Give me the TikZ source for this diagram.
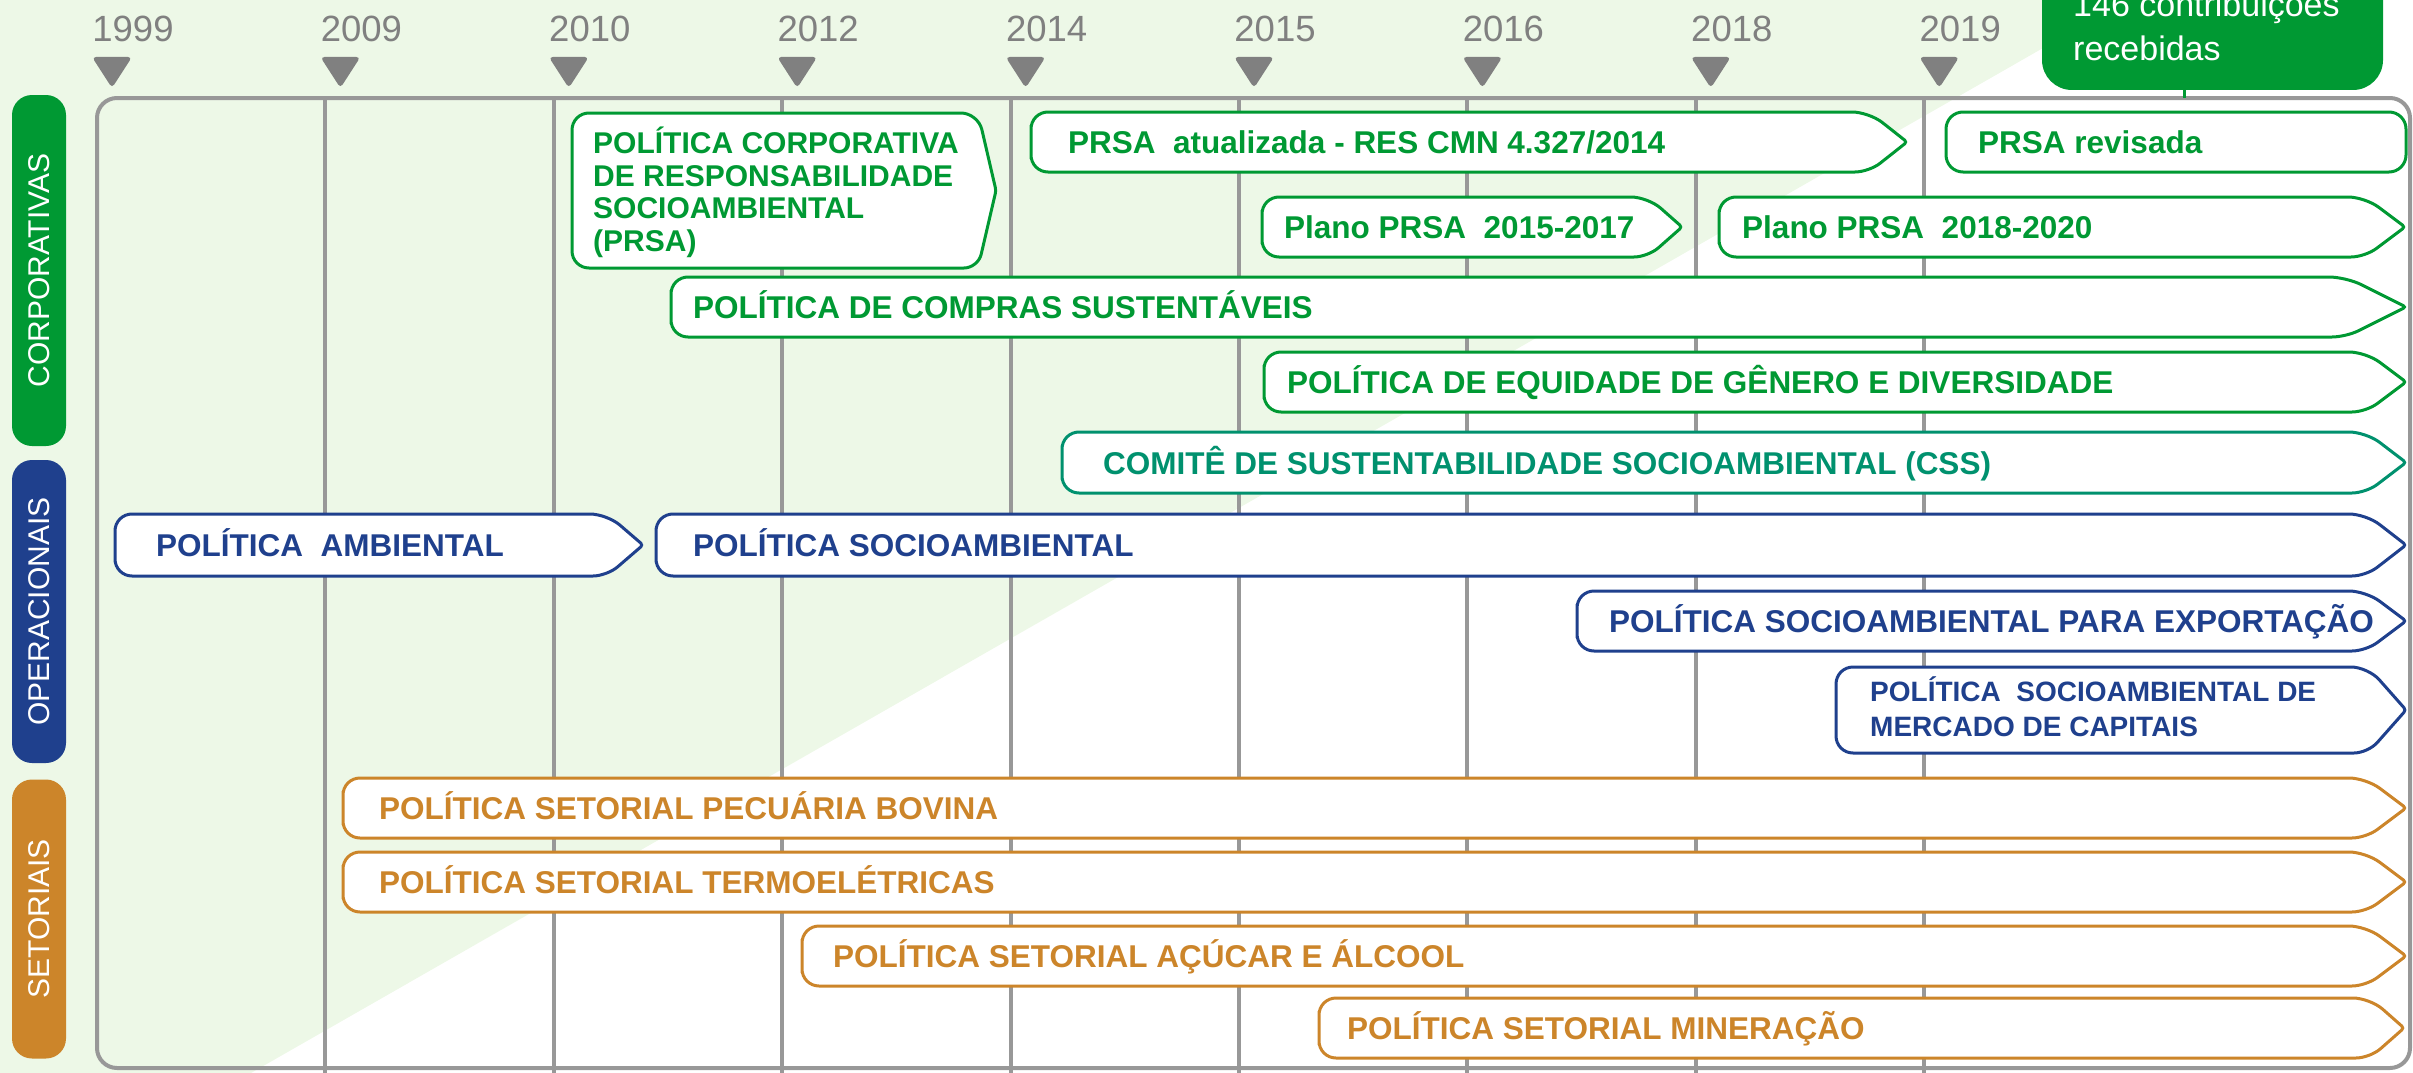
\documentclass[tikz,border=0pt]{standalone}
\usepackage{fontspec}
\setmainfont{Liberation Sans}
\definecolor{grn}{RGB}{0,153,51}
\definecolor{teal2}{RGB}{0,145,110}
\definecolor{blu}{RGB}{31,64,141}
\definecolor{org}{RGB}{204,133,42}
\definecolor{gtxt}{RGB}{128,128,128}
\definecolor{gline}{RGB}{152,152,152}
\definecolor{bgg}{RGB}{237,248,231}
\newcommand{\chevbox}[6]{%
  \draw[line width=3pt, draw=#1, fill=white, rounded corners=17pt]
    (#2,{(#3+#5)/2}) |- ({#4-#6},#3)
    [rounded corners=3pt] -- (#4,{(#3+#5)/2})
    [rounded corners=14pt] -- ({#4-#6},#5)
    [rounded corners=17pt] -| (#2,{(#3+#5)/2}) -- cycle;}
\begin{document}
\begin{tikzpicture}[x=1pt,y=-1pt,
  btxt/.style={inner sep=0pt, anchor=base west, font=\bfseries\fontsize{31.5pt}{36pt}\selectfont},
  mtxt/.style={inner sep=0pt, anchor=north west, align=left},
  yrtxt/.style={inner sep=0pt, anchor=base, text=gtxt, font=\fontsize{36.5pt}{40pt}\selectfont},
  catbox/.style={inner sep=0pt, rotate=90, rounded corners=20pt, minimum height=54pt, text=white, font=\fontsize{30pt}{34pt}\selectfont}]
\useasboundingbox (0,0) rectangle (2413,1073);
% background
\fill[bgg] (0,0) -- (2127,0) -- (251,1073) -- (0,1073) -- cycle;
% frame
\draw[line width=4pt, draw=gline, rounded corners=20pt] (97,98) rectangle (2410,1068);
% years, triangles, vertical lines
\foreach \i/\yr in {0/1999,1/2009,2/2010,3/2012,4/2014,5/2015,6/2016,7/2018,8/2019}{
  \pgfmathsetmacro{\lx}{97+228.4*\i}
  \ifnum\i>0 \draw[line width=4pt, draw=gline] (\lx,98) -- (\lx,1073); \fi
  \fill[gtxt, rounded corners=4pt] ({\lx-5},57) -- ({\lx+35},57) -- ({\lx+15},88) -- cycle;
  \node[yrtxt] (yr\i) at ({\lx+36},42) {\yr};
}
% callout top right
\fill[grn, rounded corners=30pt] (2042,-80) rectangle (2383,90);
\draw[grn, line width=3pt] (2184,89) -- (2184,98);
\node[inner sep=0pt, anchor=base west, text=white, font=\fontsize{34pt}{40pt}\selectfont] (call1) at (2073,17) {146 contribuições};
\node[inner sep=0pt, anchor=base west, text=white, font=\fontsize{34pt}{40pt}\selectfont] (call2) at (2073,60) {recebidas};
% corporate boxes
\chevbox{grn}{572}{113}{996}{268}{18}
\node[mtxt, text=grn, font=\bfseries\fontsize{30pt}{32.5pt}\selectfont] (prsa) at (593,127) {POLÍTICA CORPORATIVA\\DE RESPONSABILIDADE\\SOCIOAMBIENTAL\\(PRSA)};
\chevbox{grn}{1031}{112}{1907}{172}{38}
\node[btxt, text=grn] (atual) at (1068,153) {PRSA\ \ atualizada - RES CMN 4.327/2014};
\draw[line width=3pt, draw=grn, fill=white, rounded corners=17pt] (1946,112) rectangle (2406,172);
\node[btxt, text=grn] (rev) at (1978,153) {PRSA revisada};
\chevbox{grn}{1262}{197}{1682}{257}{34}
\node[btxt, text=grn] (plano1) at (1284,238) {Plano PRSA\ \ 2015-2017};
\chevbox{grn}{1719}{197}{2405}{257}{40}
\node[btxt, text=grn] (plano2) at (1742,238) {Plano PRSA\ \ 2018-2020};
\chevbox{grn}{671}{277}{2406}{337}{60}
\node[btxt, text=grn] (compras) at (693,318) {POLÍTICA DE COMPRAS SUSTENTÁVEIS};
\chevbox{grn}{1264}{352}{2406}{412}{40}
\node[btxt, text=grn] (equid) at (1287,393) {POLÍTICA DE EQUIDADE DE GÊNERO E DIVERSIDADE};
\chevbox{teal2}{1062}{432}{2406}{493}{40}
\node[btxt, text=teal2] (css) at (1103,474) {COMITÊ DE SUSTENTABILIDADE SOCIOAMBIENTAL (CSS)};
% operational boxes
\chevbox{blu}{115}{514}{643}{576}{36}
\node[btxt, text=blu] (amb) at (156,556) {POLÍTICA\ \ AMBIENTAL};
\chevbox{blu}{656}{514}{2406}{576}{40}
\node[btxt, text=blu] (socio) at (693,556) {POLÍTICA SOCIOAMBIENTAL};
\chevbox{blu}{1577}{591}{2406}{651}{40}
\node[btxt, text=blu] (export) at (1609,632) {POLÍTICA SOCIOAMBIENTAL PARA EXPORTAÇÃO};
\chevbox{blu}{1836}{667}{2406}{753}{38}
\node[mtxt, text=blu, font=\bfseries\fontsize{28pt}{35pt}\selectfont] (merc) at (1870,676) {POLÍTICA\ \ SOCIOAMBIENTAL DE\\MERCADO DE CAPITAIS};
% sector boxes
\chevbox{org}{343}{778}{2406}{838}{40}
\node[btxt, text=org] (pec) at (379,819) {POLÍTICA SETORIAL PECUÁRIA BOVINA};
\chevbox{org}{343}{852}{2406}{912}{40}
\node[btxt, text=org] (termo) at (379,893) {POLÍTICA SETORIAL TERMOELÉTRICAS};
\chevbox{org}{802}{926}{2406}{986}{40}
\node[btxt, text=org] (acucar) at (833,967) {POLÍTICA SETORIAL AÇÚCAR E ÁLCOOL};
\chevbox{org}{1319}{998}{2404}{1058}{34}
\node[btxt, text=org] (miner) at (1347,1039) {POLÍTICA SETORIAL MINERAÇÃO};
% category labels
\node[catbox, fill=grn, minimum width=351pt] (corp) at (39,270.5) {CORPORATIVAS};
\node[catbox, fill=blu, minimum width=303pt] (oper) at (39,611.5) {OPERACIONAIS};
\node[catbox, fill=org, minimum width=279pt] (set) at (39,919) {SETORIAIS};
\end{tikzpicture}
\end{document}
